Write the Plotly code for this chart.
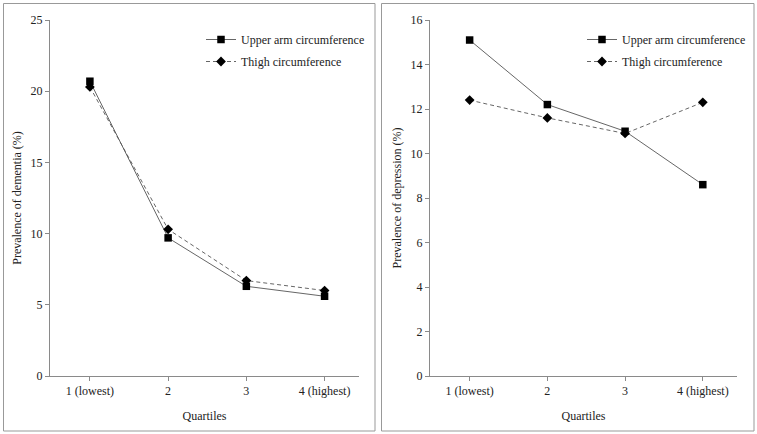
import plotly.graph_objects as go

categories = ["1 (lowest)", "2", "3", "4 (highest)"]
dementia_upper_arm = [20.7, 9.7, 6.3, 5.6]
dementia_thigh = [20.3, 10.3, 6.7, 6.0]
depression_upper_arm = [15.1, 12.2, 11.0, 8.6]
depression_thigh = [12.4, 11.6, 10.9, 12.3]
dementia_ticks = [0, 5, 10, 15, 20, 25]
depression_ticks = [0, 2, 4, 6, 8, 10, 12, 14, 16]

W, H = 757, 434
FONT = "'Liberation Serif', 'DejaVu Serif', serif"
FS = 12
AX = "#8a8a8a"
LINE = "#555555"
TXT = "#222"

fig = go.Figure()

def add_pair(xa, ya, leg, upper, thigh):
    fig.add_trace(go.Scatter(
        x=categories, y=upper, name="Upper arm circumference", xaxis=xa, yaxis=ya, legend=leg,
        legendgroup=leg + "a",
        mode="lines+markers", line=dict(color=LINE, width=0.9),
        marker=dict(symbol="square", size=7.5, color="black")))
    fig.add_trace(go.Scatter(
        x=categories, y=thigh, name="Thigh circumference", xaxis=xa, yaxis=ya, legend=leg,
        legendgroup=leg + "b",
        mode="lines+markers", line=dict(color=LINE, width=0.9, dash="4px,3px"),
        marker=dict(symbol="diamond", size=7.5, color="black")))

add_pair("x", "y", "legend", dementia_upper_arm, dementia_thigh)
add_pair("x2", "y2", "legend2", depression_upper_arm, depression_thigh)

ydom = [(H - 376) / H, (H - 20) / H]
font = dict(family=FONT, size=FS, color=TXT)

def xax(dom):
    return dict(domain=dom, range=[-0.51, 3.44], showgrid=False, zeroline=False,
                showline=True, linecolor=AX, linewidth=1, ticks="outside", ticklen=4,
                tickcolor=AX, tickfont=font,
                title=dict(text="Quartiles", font=font, standoff=14),
                automargin=False)

def yax(dom, rng, ticks, title, anchor):
    return dict(domain=dom, range=rng, tickvals=ticks, showgrid=False, zeroline=False,
                showline=True, linecolor=AX, linewidth=1, ticks="outside", ticklen=4,
                tickcolor=AX, tickfont=font,
                title=dict(text=title, font=font, standoff=6),
                anchor=anchor, automargin=False)

fig.update_layout(
    width=W, height=H, autosize=False, margin=dict(l=0, r=0, t=0, b=0),
    paper_bgcolor="white", plot_bgcolor="white",
    font=font,
    xaxis=dict(**xax([50 / W, 359 / W]), anchor="y"),
    yaxis=yax(ydom, [0, 25], dementia_ticks, "Prevalence of dementia (%)", "x"),
    xaxis2=dict(**xax([430 / W, 737 / W]), anchor="y2"),
    yaxis2=yax(ydom, [0, 16], depression_ticks, "Prevalence of depression (%)", "x2"),
    legend=dict(x=201 / W, y=(H - 25) / H, xanchor="left", yanchor="top",
                bgcolor="rgba(0,0,0,0)", font=font, itemwidth=30, tracegroupgap=3),
    legend2=dict(x=582 / W, y=(H - 25) / H, xanchor="left", yanchor="top",
                 bgcolor="rgba(0,0,0,0)", font=font, itemwidth=30, tracegroupgap=3),
    shapes=[
        dict(type="rect", xref="paper", yref="paper", x0=3.5 / W, x1=375 / W,
             y0=(H - 431) / H, y1=(H - 3.5) / H, line=dict(color="#999", width=1)),
        dict(type="rect", xref="paper", yref="paper", x0=381.5 / W, x1=754 / W,
             y0=(H - 431) / H, y1=(H - 3.5) / H, line=dict(color="#999", width=1)),
    ],
)

fig.write_html(
    "out.html",
    config={"displayModeBar": False, "responsive": False},
    post_script=(
        "document.documentElement.style.overflow='hidden';"
        "document.body.style.margin='0';"
        "document.body.style.overflow='hidden';"
    ),
)
